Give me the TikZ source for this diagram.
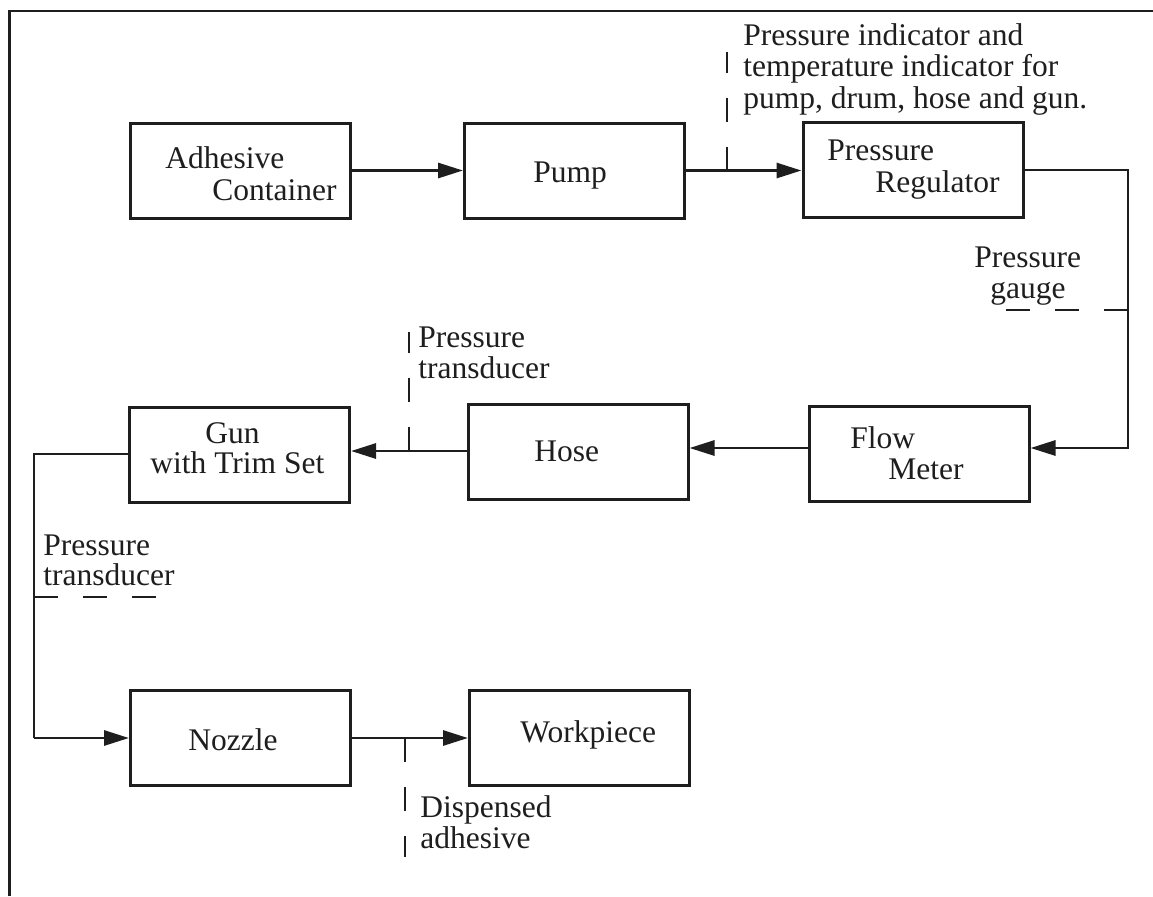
\documentclass[tikz,border=0pt]{standalone}
\usepackage{fontspec}
\setmainfont{Liberation Serif}
\usetikzlibrary{arrows.meta}
\definecolor{ink}{RGB}{30,30,30}
\begin{document}
\begin{tikzpicture}[x=0.5pt,y=-0.5pt,
  unit/.style={draw=ink, line width=1.5pt, rectangle, inner sep=0pt,
               minimum width=110pt, minimum height=47.5pt},
  txt/.style={anchor=base west, inner sep=0pt, text=ink,
              font=\fontsize{15.75}{16}\selectfont},
  pipe/.style={draw=ink, line width=1.45pt},
  flow/.style={pipe, -{Triangle[length=12.5pt,width=7.5pt]}},
  tap/.style={draw=ink, line width=1.45pt, dash pattern=on 12pt off 12.5pt}]
\useasboundingbox (0,0) rectangle (1153,896);

% sheet border
\coordinate (fTL) at (9.5,11);
\coordinate (fTR) at (1153,11);
\coordinate (fBL) at (9.5,896);
\draw[pipe] (fBL) -- (fTL) -- (fTR);

% process units
\node[unit] (ac)   at (240.5,170.5) {};
\node[unit] (pump) at (574.5,170.5) {};
\node[unit] (pr)   at (913,170) {};
\node[unit] (fm)   at (919,453.5) {};
\node[unit] (hose) at (578,452) {};
\node[unit] (gun)  at (239.5,454.5) {};
\node[unit] (noz)  at (240.5,738) {};
\node[unit] (wp)   at (579.5,738) {};

% unit captions
\node[txt] (acA)   at (165,168) {Adhesive};
\node[txt] (acB)   at (212,200) {Container};
\node[txt] (pumpT) at (533,182) {Pump};
\node[txt] (prA)   at (827,160) {Pressure};
\node[txt] (prB)   at (875,192) {Regulator};
\node[txt] (fmA)   at (850,448) {Flow};
\node[txt] (fmB)   at (888,479) {Meter};
\node[txt] (hoseT) at (534,461) {Hose};
\node[txt] (gunA)  at (205,443) {Gun};
\node[txt] (gunB)  at (150,473) {with Trim Set};
\node[txt] (nozT)  at (188,750) {Nozzle};
\node[txt] (wpT)   at (520,742) {Workpiece};

% flow levels and bends
\coordinate (lvlFM)  at (0,448);
\coordinate (lvlGun) at (0,451);
\coordinate (lvlOut) at (0,454);
\coordinate (riser)  at (1128,0);
\coordinate (drop)   at (34,0);

% adhesive flow path
\draw[flow] (ac.east) -- (pump.west);
\draw[flow] (pump.east) -- (pump.east -| pr.west);
\draw[flow] (pr.east) -- (pr.east -| riser) -- (riser |- lvlFM) -- (fm.east |- lvlFM);
\draw[flow] (fm.west |- lvlFM) -- (hose.east |- lvlFM);
\draw[flow] (hose.west |- lvlGun) -- (gun.east |- lvlGun);
\draw[pipe] (gun.west |- lvlOut) -- (drop |- lvlOut) -- (drop |- noz.west);
\draw[flow] (drop |- noz.west) -- (noz.west);
\draw[flow] (noz.east) -- (wp.west);

% measuring points
\coordinate (tapInd)  at (727,52);
\coordinate (tapHose) at (409,332);
\coordinate (tapGau)  at (1000,310);
\coordinate (tapGun)  at (162,597);
\coordinate (tapDisp) at (405,857);
\draw[tap] (tapInd |- pump.east) -- (tapInd);
\draw[tap] (tapHose |- lvlGun) -- (tapHose);
\draw[tap] (riser |- tapGau) -- (tapGau);
\draw[tap] (drop |- tapGun) -- (tapGun);
\draw[tap] (tapDisp |- noz.east) -- (tapDisp);

% measurement notes
\node[txt] (indA) at (743,45)  {Pressure indicator and};
\node[txt] (indB) at (743,76)  {temperature indicator for};
\node[txt] (indC) at (743,108) {pump, drum, hose and gun.};
\node[txt] (hpA)  at (418,347) {Pressure};
\node[txt] (hpB)  at (418,378) {transducer};
\node[txt] (pgA)  at (974,267) {Pressure};
\node[txt] (pgB)  at (990,298) {gauge};
\node[txt] (gpA)  at (43,555)  {Pressure};
\node[txt] (gpB)  at (43,585)  {transducer};
\node[txt] (daA)  at (420,817) {Dispensed};
\node[txt] (daB)  at (420,848) {adhesive};
\end{tikzpicture}
\end{document}
